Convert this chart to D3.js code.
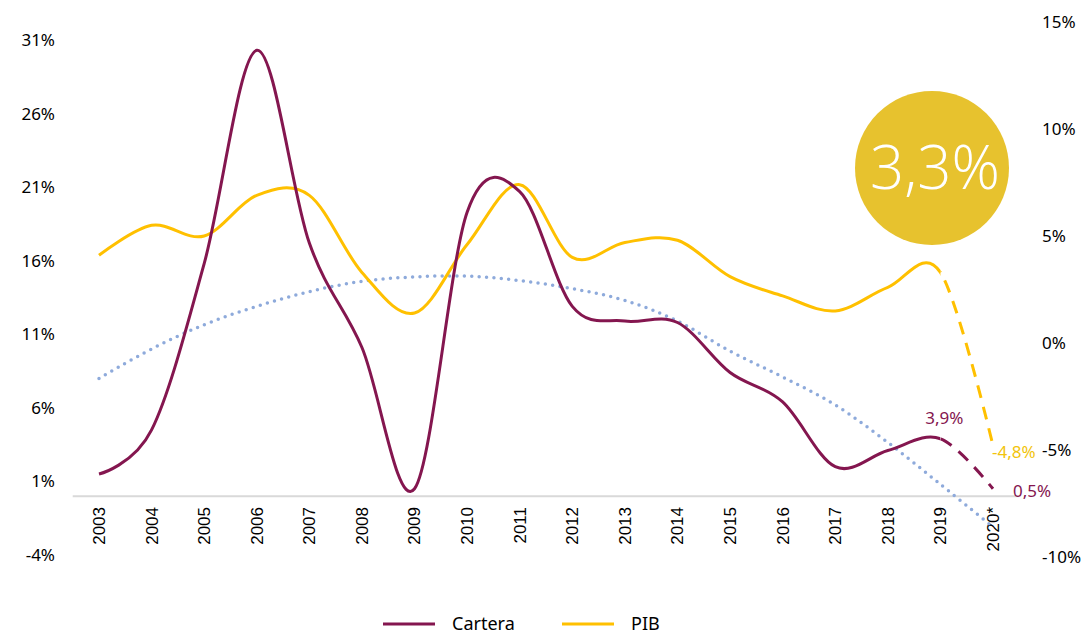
<!DOCTYPE html>
<html>
<head>
<meta charset="utf-8">
<script src="https://cdn.jsdelivr.net/npm/d3@7"></script>
<style>
  body { margin: 0; background: #fff; }
  svg { display: block; }
</style>
</head>
<body>
<svg id="chart" width="1085" height="637"></svg>
<script>
// years on the x axis
const years = ["2003", "2004", "2005", "2006", "2007", "2008", "2009", "2010", "2011",
    "2012", "2013", "2014", "2015", "2016", "2017", "2018", "2019", "2020*"];

// growth of the loan portfolio (left axis, %)
const cartera = [1.5, 4.5, 15.8, 30.3, 17.2, 10.1, 0.5, 19.3, 20.7, 12.9, 11.9, 11.8, 8.4, 6.4, 2.0, 3.1, 3.9, 0.5];

// GDP growth (right axis, %)
const pib = [4.1, 5.5, 5.0, 6.9, 6.9, 3.3, 1.4, 4.6, 7.4, 4.0, 4.7, 4.8, 3.1, 2.2, 1.5, 2.6, 3.3, -4.8];

// trend line of cartera (left axis, %)
const tendencia = [8.0, 10.0, 11.65, 12.9, 13.9, 14.6, 14.9, 14.95, 14.65, 14.1, 13.3, 11.9, 9.85, 8.1, 6.2, 3.65, 0.8, -2.1];

const leftTicks = [-4, 1, 6, 11, 16, 21, 26, 31];
const rightTicks = [-10, -5, 0, 5, 10, 15];

const legendItems = ["Cartera", "PIB"];
const bigValue = "3,3%";

const colCartera = "#84164f";
const colPib = "#ffc000";
const colTrend = "#8eaadb";

const svg = d3.select("#chart");

const xScale = d3.scalePoint().domain(years).range([72.7, 1019.3]).padding(0.5);
const yLeft = d3.scaleLinear().domain([-4, 31]).range([555, 40]);
const yRight = d3.scaleLinear().domain([-10, 15]).range([557, 22]);

const fmt = v => (v + "%").replace(".", ",");

// baseline at 0 of the left axis
svg.append("line")
    .attr("x1", xScale.range()[0]).attr("x2", xScale.range()[1])
    .attr("y1", yLeft(0)).attr("y2", yLeft(0))
    .style("stroke", "#d9d9d9")
    .style("stroke-width", 2);

// left axis labels
svg.selectAll(".ltick")
    .data(leftTicks)
    .enter()
    .append("text")
    .attr("class", "ltick")
    .attr("x", 55)
    .attr("y", d => yLeft(d))
    .attr("dy", "0.35em")
    .attr("text-anchor", "end")
    .style("font-family", "'Noto Sans', sans-serif")
    .style("font-size", "17px")
    .style("fill", "#000")
    .text(d => d + "%");

// right axis labels
svg.selectAll(".rtick")
    .data(rightTicks)
    .enter()
    .append("text")
    .attr("class", "rtick")
    .attr("x", 1042)
    .attr("y", d => yRight(d))
    .attr("dy", "0.35em")
    .attr("text-anchor", "start")
    .style("font-family", "'Noto Sans', sans-serif")
    .style("font-size", "17px")
    .style("fill", "#000")
    .text(d => d + "%");

// year labels, rotated
svg.selectAll(".xtick")
    .data(years)
    .enter()
    .append("text")
    .attr("class", "xtick")
    .attr("transform", d => `translate(${xScale(d)},507) rotate(-90)`)
    .attr("dy", "0.35em")
    .attr("text-anchor", "end")
    .style("font-family", "'Liberation Sans', Arial, sans-serif")
    .style("font-size", "17px")
    .style("fill", "#000")
    .text(d => d);

// clip paths: solid up to 2019, dashed for the 2020 forecast
const defs = svg.append("defs");
const splitX = xScale("2019");
defs.append("clipPath").attr("id", "solidClip")
    .append("rect").attr("x", 0).attr("y", 0).attr("width", splitX).attr("height", 637);
defs.append("clipPath").attr("id", "dashClip")
    .append("rect").attr("x", splitX).attr("y", 0).attr("width", 1085 - splitX).attr("height", 637);

const curve = d3.curveCatmullRom.alpha(0);

// trend (dotted)
const trendLine = d3.line()
    .x((d, i) => xScale(years[i]))
    .y(d => yLeft(d))
    .curve(curve);

svg.append("path")
    .datum(tendencia)
    .attr("d", trendLine)
    .style("fill", "none")
    .style("stroke", colTrend)
    .style("stroke-width", 3.5)
    .style("stroke-linecap", "round")
    .style("stroke-dasharray", "0 7.4");

let drawSeries = (data, scale, color) => {
    const line = d3.line()
        .x((d, i) => xScale(years[i]))
        .y(d => scale(d))
        .curve(curve);

    svg.append("path")
        .datum(data)
        .attr("d", line)
        .attr("clip-path", "url(#solidClip)")
        .style("fill", "none")
        .style("stroke", color)
        .style("stroke-width", 3);

    svg.append("path")
        .datum(data)
        .attr("d", line)
        .attr("clip-path", "url(#dashClip)")
        .style("fill", "none")
        .style("stroke", color)
        .style("stroke-width", 3)
        .style("stroke-dasharray", "13 9");
};

drawSeries(pib, yRight, colPib);
drawSeries(cartera, yLeft, colCartera);

// data labels
const n = years.length;
svg.append("text")
    .attr("x", xScale(years[n - 2]) + 4)
    .attr("y", yLeft(cartera[n - 2]) - 21)
    .attr("dy", "0.35em")
    .attr("text-anchor", "middle")
    .style("font-family", "'Noto Sans', sans-serif")
    .style("font-size", "17px")
    .style("fill", colCartera)
    .text(fmt(cartera[n - 2]));

svg.append("text")
    .attr("x", 992)
    .attr("y", yRight(pib[n - 1]) + 6)
    .attr("dy", "0.35em")
    .style("font-family", "'Noto Sans', sans-serif")
    .style("font-size", "17px")
    .style("fill", "#f2c40c")
    .text(fmt(pib[n - 1]));

svg.append("text")
    .attr("x", 1013)
    .attr("y", yLeft(cartera[n - 1]) + 2)
    .attr("dy", "0.35em")
    .style("font-family", "'Noto Sans', sans-serif")
    .style("font-size", "17px")
    .style("fill", colCartera)
    .text(fmt(cartera[n - 1]));

// big circle
svg.append("circle")
    .attr("cx", 932)
    .attr("cy", 168)
    .attr("r", 77)
    .style("fill", "#e7c22e");

svg.append("text")
    .attr("x", 935)
    .attr("y", 168)
    .attr("dy", "0.35em")
    .attr("text-anchor", "middle")
    .style("font-family", "'Open Sans', sans-serif")
    .style("font-weight", 300)
    .style("font-size", "60px")
    .style("fill", "#fff")
    .text(bigValue);

// legend
const legend = svg.selectAll(".legend")
    .data(legendItems)
    .enter()
    .append("g")
    .attr("class", "legend")
    .attr("transform", (d, i) => `translate(${383 + i * 179},624)`);

legend.append("line")
    .attr("x1", 0).attr("x2", 52)
    .attr("y1", 0).attr("y2", 0)
    .style("stroke", (d, i) => i === 0 ? colCartera : colPib)
    .style("stroke-width", 3);

legend.append("text")
    .attr("x", 69)
    .attr("y", 0)
    .attr("dy", "0.35em")
    .style("font-family", "'Noto Sans', sans-serif")
    .style("font-size", "18px")
    .style("fill", "#000")
    .text(d => d);
</script>
</body>
</html>
